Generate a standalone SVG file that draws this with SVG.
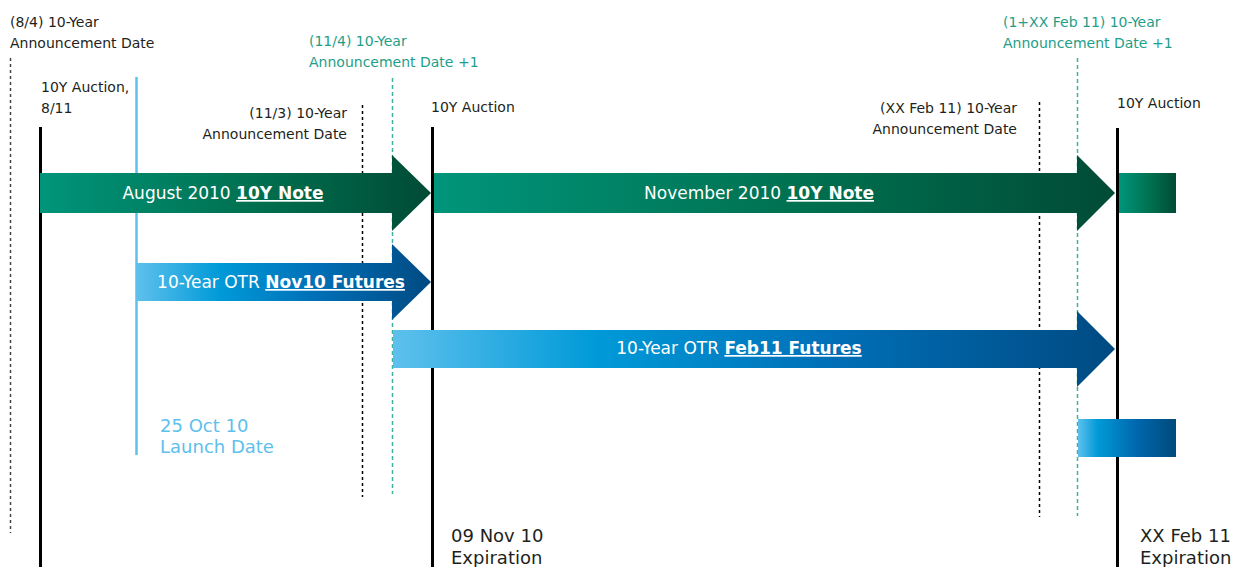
<svg xmlns="http://www.w3.org/2000/svg" width="1233" height="567" viewBox="0 0 1233 567">
<defs>
<linearGradient id="gGreen" x1="0" y1="0" x2="1" y2="0">
<stop offset="0" stop-color="#00957b"/>
<stop offset="0.55" stop-color="#00704f"/>
<stop offset="1" stop-color="#004b36"/>
</linearGradient>
<linearGradient id="gBlue" x1="0" y1="0" x2="1" y2="0">
<stop offset="0" stop-color="#5ec0ec"/>
<stop offset="0.28" stop-color="#009ad8"/>
<stop offset="0.6" stop-color="#0070b8"/>
<stop offset="1" stop-color="#004a82"/>
</linearGradient>
<linearGradient id="gBlueSmall" x1="0" y1="0" x2="1" y2="0">
<stop offset="0" stop-color="#5ec0ec"/>
<stop offset="0.2" stop-color="#009ad8"/>
<stop offset="0.6" stop-color="#0067ae"/>
<stop offset="1" stop-color="#004a7c"/>
</linearGradient>
</defs>
<style>
text{font-family:"DejaVu Sans","Liberation Sans",sans-serif;}
.lbl{font-size:14px;fill:#231f20;}
.teal{font-size:14px;fill:#1e9e88;}
.big{font-size:18px;fill:#231f20;}
.launch{font-size:18px;fill:#5ec0ec;}
.bar{font-size:17px;fill:#ffffff;text-anchor:middle;}
.bar tspan.b{font-weight:bold;text-decoration:underline;}
.solid{stroke:#000;stroke-width:3;fill:none;}
.dotBlack{stroke:#000;stroke-width:1.5;stroke-dasharray:3 3;fill:none;}
.dotGray{stroke:#444;stroke-width:1.5;stroke-dasharray:3 3;fill:none;}
.dashTeal{stroke:#3db39e;stroke-width:1.5;stroke-dasharray:4 3;fill:none;}
.blueLine{stroke:#5ec0ec;stroke-width:2.5;fill:none;}
</style>
<rect width="1233" height="567" fill="#ffffff"/>
<g id="connectors">
<line class="dotGray" x1="10.5" y1="58" x2="10.5" y2="533"/>
<line class="solid" x1="40.5" y1="127" x2="40.5" y2="567"/>
<line class="blueLine" x1="136.5" y1="77" x2="136.5" y2="455"/>
<line class="dotBlack" x1="362.5" y1="105" x2="362.5" y2="497"/>
<line class="dashTeal" x1="392.5" y1="78" x2="392.5" y2="494"/>
<line class="solid" x1="432.5" y1="127" x2="432.5" y2="567"/>
<line class="dotBlack" x1="1039.5" y1="102" x2="1039.5" y2="517"/>
<line class="dashTeal" x1="1077.5" y1="58" x2="1077.5" y2="516"/>
<line class="solid" x1="1117.5" y1="128" x2="1117.5" y2="567"/>
</g>
<g id="aug2010-note">
<path d="M40,173 H392 V155 L431,193 L392,231 V213 H40 Z" fill="url(#gGreen)"/>
<text class="bar" x="223" y="199">August 2010 <tspan class="b">10Y Note</tspan></text>
</g>
<g id="nov2010-note">
<path d="M434,173 H1077 V155 L1115,193 L1077,231 V213 H434 Z" fill="url(#gGreen)"/>
<text class="bar" x="759" y="199">November 2010 <tspan class="b">10Y Note</tspan></text>
</g>
<g id="next-note">
<rect x="1119" y="173" width="57" height="40" fill="url(#gGreen)"/>
</g>
<g id="nov10-futures">
<path d="M137,263 H392 V244 L431,282 L392,320 V301 H137 Z" fill="url(#gBlue)"/>
<text class="bar" x="281" y="288">10-Year OTR <tspan class="b">Nov10 Futures</tspan></text>
</g>
<g id="feb11-futures">
<path d="M393,330 H1077 V311 L1115,349 L1077,387 V368 H393 Z" fill="url(#gBlue)"/>
<text class="bar" x="739" y="354">10-Year OTR <tspan class="b">Feb11 Futures</tspan></text>
</g>
<g id="next-futures">
<rect x="1078" y="419" width="98" height="38" fill="url(#gBlueSmall)"/>
</g>
<g id="label-aug-announce">
<text class="lbl" x="10" y="27">(8/4) 10-Year</text>
<text class="lbl" x="10" y="48">Announcement Date</text>
</g>
<g id="label-aug-auction">
<text class="lbl" x="41" y="92">10Y Auction,</text>
<text class="lbl" x="41" y="113">8/11</text>
</g>
<g id="label-nov-announce">
<text class="lbl" x="347" y="118" text-anchor="end">(11/3) 10-Year</text>
<text class="lbl" x="347" y="139" text-anchor="end">Announcement Date</text>
</g>
<g id="label-nov-announce-plus1">
<text class="teal" x="309" y="46">(11/4) 10-Year</text>
<text class="teal" x="309" y="67">Announcement Date +1</text>
</g>
<g id="label-nov-auction">
<text class="lbl" x="431" y="112">10Y Auction</text>
</g>
<g id="label-feb-announce">
<text class="lbl" x="1017" y="113" text-anchor="end">(XX Feb 11) 10-Year</text>
<text class="lbl" x="1017" y="134" text-anchor="end">Announcement Date</text>
</g>
<g id="label-feb-announce-plus1">
<text class="teal" x="1003" y="27">(1+XX Feb 11) 10-Year</text>
<text class="teal" x="1003" y="48">Announcement Date +1</text>
</g>
<g id="label-feb-auction">
<text class="lbl" x="1117" y="108">10Y Auction</text>
</g>
<g id="label-launch">
<text class="launch" x="160" y="432">25 Oct 10</text>
<text class="launch" x="160" y="453">Launch Date</text>
</g>
<g id="label-nov-expiration">
<text class="big" x="451" y="542">09 Nov 10</text>
<text class="big" x="451" y="564">Expiration</text>
</g>
<g id="label-feb-expiration">
<text class="big" x="1140" y="542">XX Feb 11</text>
<text class="big" x="1140" y="564">Expiration</text>
</g>
</svg>
